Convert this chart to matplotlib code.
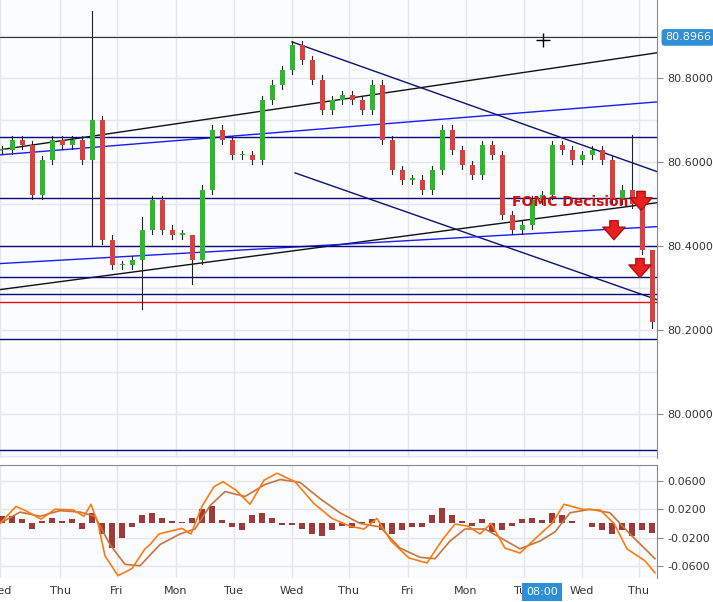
import numpy as np
import matplotlib.pyplot as plt

# price candles, one every 10 px-units of time (day = ~58 units)
x_step = 10
closes = [80.629, 80.653, 80.641, 80.522, 80.605, 80.653, 80.641, 80.653, 80.605, 80.700,
          80.415, 80.355, 80.355, 80.367, 80.439, 80.510, 80.439, 80.427, 80.427, 80.367,
          80.534, 80.677, 80.653, 80.617, 80.617, 80.605, 80.748, 80.784, 80.819, 80.879,
          80.843, 80.796, 80.724, 80.748, 80.760, 80.748, 80.724, 80.784, 80.653, 80.581,
          80.558, 80.558, 80.534, 80.581, 80.677, 80.629, 80.593, 80.570, 80.641, 80.617,
          80.474, 80.439, 80.450, 80.510, 80.522, 80.641, 80.629, 80.605, 80.617, 80.629,
          80.605, 80.510, 80.534, 80.500, 80.391, 80.220]
spikes = {9: (80.96, 80.40), 14: (80.47, 80.25), 19: (80.38, 80.31), 63: (80.665, 80.49), 65: (80.39, 80.205)}

day_pos = [0, 60, 117, 176, 234, 292, 349, 408, 466, 524, 582, 639]
day_names = ['Wed', 'Thu', 'Fri', 'Mon', 'Tue', 'Wed', 'Thu', 'Fri', 'Mon', 'Tue', 'Wed', 'Thu']

hlines_navy = [80.66, 80.515, 80.40, 80.325, 80.286, 80.178, 79.915]
hline_red = 80.267
hline_top = 80.8966
# trend lines: (x0, p0, x1, p1, color)
trends = [(0, 80.629, 657, 80.860, '#111111'),
          (0, 80.617, 657, 80.743, '#1a1aff'),
          (292, 80.886, 657, 80.577, '#101070'),
          (295, 80.574, 657, 80.272, '#101070'),
          (0, 80.296, 657, 80.503, '#111111'),
          (0, 80.358, 657, 80.446, '#1a1aff')]
arrows = [(641, 80.53), (614, 80.46), (640, 80.37)]

macd_x = [0, 16, 27, 41, 55, 73, 84, 91, 98, 105, 118, 132, 145, 150, 159, 182, 191, 202, 214, 223,
          236, 250, 264, 277, 295, 314, 332, 350, 364, 377, 391, 409, 427, 443, 455, 468, 480, 491,
          505, 520, 541, 552, 564, 582, 600, 614, 627, 645, 655]
macd = [0.0, 0.024, 0.017, 0.006, 0.020, 0.019, 0.010, 0.027, 0.0, -0.046, -0.074, -0.064, -0.036,
        -0.030, -0.015, -0.007, -0.015, 0.024, 0.052, 0.059, 0.047, 0.027, 0.061, 0.071, 0.059, 0.028,
        0.007, -0.004, -0.008, 0.007, -0.025, -0.049, -0.056, -0.022, -0.001, -0.004, -0.015, 0.0,
        -0.035, -0.042, -0.014, 0.0, 0.027, 0.020, 0.019, 0.0, -0.036, -0.053, -0.070]
sig_x = [0, 20, 40, 60, 80, 95, 110, 125, 140, 160, 180, 195, 210, 225, 245, 265, 280, 300, 320, 340,
         360, 380, 400, 420, 435, 450, 465, 485, 500, 520, 540, 555, 570, 590, 610, 630, 655]
signal = [0.0, 0.016, 0.010, 0.018, 0.016, 0.010, -0.030, -0.058, -0.060, -0.030, -0.015, -0.008,
          0.025, 0.045, 0.038, 0.055, 0.062, 0.058, 0.035, 0.015, 0.0, -0.005, -0.035, -0.048, -0.050,
          -0.025, -0.008, -0.008, -0.020, -0.036, -0.025, -0.012, 0.015, 0.020, 0.015, -0.015, -0.050]
hist = [0.010, 0.010, 0.006, -0.008, 0.004, 0.008, 0.004, 0.006, -0.008, 0.014, -0.015, -0.035,
        -0.020, -0.005, 0.012, 0.015, 0.008, 0.004, 0.002, 0.008, 0.020, 0.025, 0.005, -0.005, -0.010,
        0.012, 0.014, 0.008, -0.002, -0.003, -0.008, -0.015, -0.018, -0.010, -0.004, -0.006, 0.002,
        0.006, -0.010, -0.015, -0.010, -0.005, -0.005, 0.012, 0.022, 0.012, 0.004, -0.004, 0.006,
        -0.012, -0.010, -0.004, 0.006, 0.008, 0.005, 0.014, 0.012, 0.004, 0.0, -0.005, -0.010, -0.015,
        -0.010, -0.018, -0.010, -0.014]

bg = '#fbfcfe'
grid = '#e4e6ea'
fig = plt.figure(figsize=(7.13, 6.02), dpi=100)
fig.patch.set_facecolor('white')

ax = fig.add_axes([0, 1 - 458 / 602, 657 / 713, 458 / 602])
ax.set_facecolor(bg)
ax.set_xlim(0, 657)
ax.set_ylim(79.895, 80.9857)
for d in day_pos:
    ax.axvline(d, color=grid, lw=1, zorder=0)
for p in np.arange(79.9, 81.0, 0.1):
    ax.axhline(p, color=grid, lw=1, zorder=0)

for xa, pa, xb, pb, c in trends:
    ax.plot([xa, xb], [pa, pb], color=c, lw=1, zorder=2)
for p in hlines_navy:
    ax.axhline(p, color='#0a0a7a', lw=1, zorder=2)
ax.axhline(hline_red, color='#e01010', lw=1, zorder=2)
ax.axhline(hline_top, color='#333333', lw=0.8, zorder=2)

prev = closes[0]
for i, c in enumerate(closes):
    xx = i * x_step + 2
    o = prev
    hi, lo = spikes.get(i, (max(o, c) + 0.01, min(o, c) - 0.01))
    col = '#2db82d' if c >= o else '#d94040'
    ax.plot([xx, xx], [lo, hi], color='#222222', lw=0.8, zorder=3)
    ax.bar(xx, max(abs(c - o), 0.003), bottom=min(o, c), width=5, color=col, zorder=4)
    prev = c

for ax_x, ay in arrows:
    ax.annotate('', xy=(ax_x, ay - 0.045), xytext=(ax_x, ay),
                arrowprops=dict(facecolor='#e82020', edgecolor='#b01010', width=6, headwidth=16, headlength=9),
                zorder=6)
ax.text(512, 80.495, 'FOMC Decision', color='#cc1111', fontsize=10, fontweight='bold', zorder=7)
ax.plot(543, 80.89, marker='+', color='black', ms=10, zorder=7)

ax.yaxis.tick_right()
ax.set_yticks([80.0, 80.2, 80.4, 80.6, 80.8])
ax.set_yticklabels(['80.0000', '80.2000', '80.4000', '80.6000', '80.8000'], fontsize=8, color='#333333')
ax.set_xticks([])
ax.tick_params(axis='y', length=4, color='#888888')
for s in ['top', 'left', 'bottom']:
    ax.spines[s].set_visible(False)
ax.spines['right'].set_color('#888888')
ax.text(1.012, hline_top, '80.8966', transform=ax.get_yaxis_transform(), fontsize=8, color='white',
        va='center', ha='left', bbox=dict(boxstyle='round,pad=0.3', fc='#2e8fd6', ec='none'))

ax2 = fig.add_axes([0, 24 / 602, 657 / 713, 113 / 602])
ax2.set_facecolor(bg)
ax2.set_xlim(0, 657)
ax2.set_ylim(-0.0773, 0.0826)
for d in day_pos:
    ax2.axvline(d, color=grid, lw=1, zorder=0)
for p in [-0.06, -0.02, 0.02, 0.06]:
    ax2.axhline(p, color=grid, lw=1, zorder=0)
ax2.bar(np.arange(len(hist)) * x_step + 2, hist, width=6, color='#9e3a3a', zorder=2)
ax2.plot(sig_x, signal, color='#c8743a', lw=1.2, zorder=3)
ax2.plot(macd_x, macd, color='#ff7a10', lw=1.2, zorder=4)
ax2.yaxis.tick_right()
ax2.set_yticks([-0.06, -0.02, 0.02, 0.06])
ax2.set_yticklabels(['-0.0600', '-0.0200', '0.0200', '0.0600'], fontsize=8, color='#333333')
ax2.set_xticks(day_pos)
ax2.set_xticklabels(day_names, fontsize=8, color='#333333')
ax2.tick_params(axis='x', length=0, pad=6)
ax2.tick_params(axis='y', length=4, color='#888888')
for s in ['left', 'bottom']:
    ax2.spines[s].set_visible(False)
ax2.spines['right'].set_color('#888888')
ax2.spines['top'].set_color('#888888')
ax2.text(542, -0.097, '08:00', fontsize=8, color='white', ha='center', va='center',
         bbox=dict(boxstyle='square,pad=0.35', fc='#2e8fd6', ec='none'))

fig.savefig('out.png', dpi=100)
